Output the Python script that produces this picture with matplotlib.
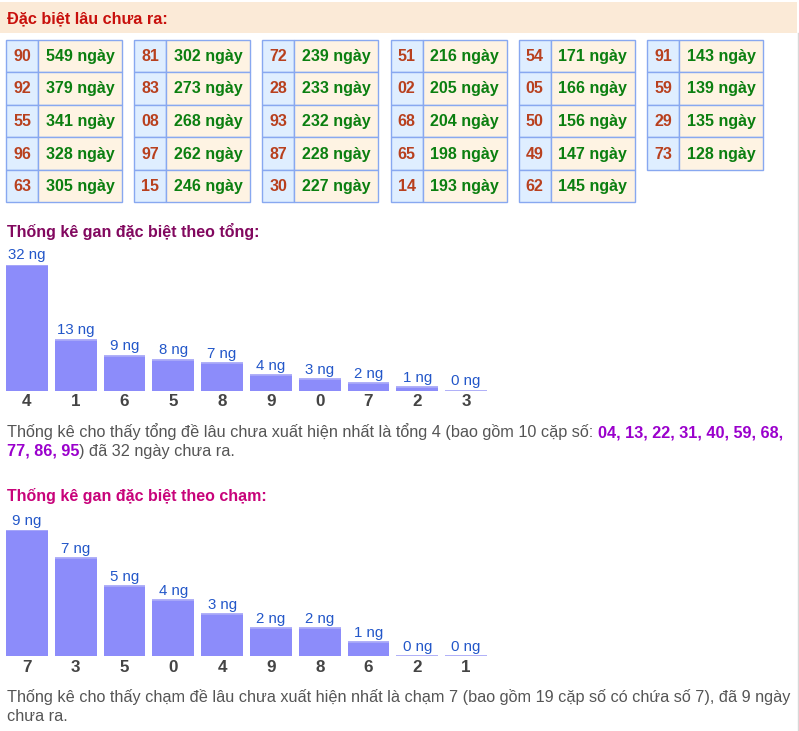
import matplotlib
matplotlib.use('Agg')
import matplotlib.pyplot as plt
from matplotlib.patches import Rectangle

plt.rcParams['font.family'] = ['Liberation Sans', 'DejaVu Sans']

# Long-absent special numbers (cặp số, số ngày)
gan_pairs = ['90', '92', '55', '96', '63',
             '81', '83', '08', '97', '15',
             '72', '28', '93', '87', '30',
             '51', '02', '68', '65', '14',
             '54', '05', '50', '49', '62',
             '91', '59', '29', '73']
gan_days = [549, 379, 341, 328, 305,
            302, 273, 268, 262, 246,
            239, 233, 232, 228, 227,
            216, 205, 204, 198, 193,
            171, 166, 156, 147, 145,
            143, 139, 135, 128]

tong_labels = ['4', '1', '6', '5', '8', '9', '0', '7', '2', '3']
tong_days = [32, 13, 9, 8, 7, 4, 3, 2, 1, 0]

cham_labels = ['7', '3', '5', '0', '4', '9', '8', '6', '2', '1']
cham_days = [9, 7, 5, 4, 3, 2, 2, 1, 0, 0]

tong_pairs = ['04', '13', '22', '31', '40', '59', '68', '77', '86', '95']

W, H = 799, 731
fig = plt.figure(figsize=(W / 100, H / 100), dpi=100)
page = fig.add_axes([0, 0, 1, 1])
page.set_xlim(0, W)
page.set_ylim(H, 0)
page.axis('off')

PX = 0.72  # points per pixel


def fs(px):
    return px * PX


# header band
page.add_patch(Rectangle((0, 2), 797, 31, facecolor='#fbead7', edgecolor='none'))
page.plot([797.5, 797.5], [33, H], color='#d8d8d8', lw=1)
page.text(7, 23, 'Đặc biệt lâu chưa ra:', color='#c8100c', fontsize=fs(16.2),
          fontweight='bold', va='baseline')

# tables of long-absent pairs, 5 rows per table
rows_per_table = 5
row_h = 32.6
for k in range(len(gan_pairs)):
    t, r = divmod(k, rows_per_table)
    x0 = 6 + t * 128.2
    y0 = 39.5 + r * row_h
    page.add_patch(Rectangle((x0, y0), 32, row_h, facecolor='#dfeeff',
                             edgecolor='#88a8f0', lw=1))
    page.add_patch(Rectangle((x0 + 32, y0), 84, row_h, facecolor='#fef3e3',
                             edgecolor='#88a8f0', lw=1))
    page.text(x0 + 16, y0 + row_h / 2 + 0.5, gan_pairs[k], color='#b8401e',
              fontsize=fs(16), fontweight='bold', ha='center', va='center')
    page.text(x0 + 74, y0 + row_h / 2 + 0.5, f'{gan_days[k]} ngày', color='#0b7f10',
              fontsize=fs(16), fontweight='bold', ha='center', va='center')


def bar_chart(baseline, labels, values):
    ax = fig.add_axes([2.5 / W, (H - baseline) / H, 488 / W, 126 / H])
    ax.set_xlim(-0.5, len(values) - 0.5)
    ax.set_ylim(0, max(values))
    ax.axis('off')
    x = range(len(values))
    ax.bar(x, values, width=0.86, color='#8c8cfa')
    ax.hlines(values, [i - 0.43 for i in x], [i + 0.43 for i in x],
              color='#a9a9f8', lw=1.3)
    for i, v in enumerate(values):
        ax.annotate(f'{v} ng', (i, v), xytext=(0, 9.5 * PX), textcoords='offset points',
                    ha='center', va='center', color='#2357c9', fontsize=fs(15),
                    annotation_clip=False)
        ax.annotate(labels[i], (i, 0), xytext=(0, -11 * PX), textcoords='offset points',
                    ha='center', va='center', color='#444444', fontsize=fs(17),
                    fontweight='bold', annotation_clip=False)
    return ax


renderer = fig.canvas.get_renderer()


def text_run(x, y, pieces):
    # pieces: list of (text, color, weight) placed one after another
    for s, color, weight in pieces:
        t = page.text(x, y, s, color=color, fontsize=fs(16.2), fontweight=weight,
                      va='baseline')
        bb = t.get_window_extent(renderer)
        x += bb.width
    return x


GRAY = '#555555'
PURPLE = '#9a00cc'

page.text(7, 237, 'Thống kê gan đặc biệt theo tổng:', color='#82085f',
          fontsize=fs(16), fontweight='bold', va='baseline')
bar_chart(391, tong_labels, tong_days)

text_run(7, 437, [('Thống kê cho thấy tổng đề lâu chưa xuất hiện nhất là tổng '
                   f'{tong_labels[0]} (bao gồm {len(tong_pairs)} cặp số: ', GRAY, 'normal'),
                  (', '.join(tong_pairs[:7]) + ',', PURPLE, 'bold')])
text_run(7, 456, [(', '.join(tong_pairs[7:]), PURPLE, 'bold'),
                  (f') đã {tong_days[0]} ngày chưa ra.', GRAY, 'normal')])

page.text(7, 501, 'Thống kê gan đặc biệt theo chạm:', color='#c8037a',
          fontsize=fs(16), fontweight='bold', va='baseline')
bar_chart(656, cham_labels, cham_days)

text_run(7, 702, [('Thống kê cho thấy chạm đề lâu chưa xuất hiện nhất là chạm '
                   f'{cham_labels[0]} (bao gồm 19 cặp số có chứa số {cham_labels[0]}), '
                   f'đã {cham_days[0]} ngày', GRAY, 'normal')])
text_run(7, 721, [('chưa ra.', GRAY, 'normal')])

fig.savefig('out.png', dpi=100, facecolor='white')
